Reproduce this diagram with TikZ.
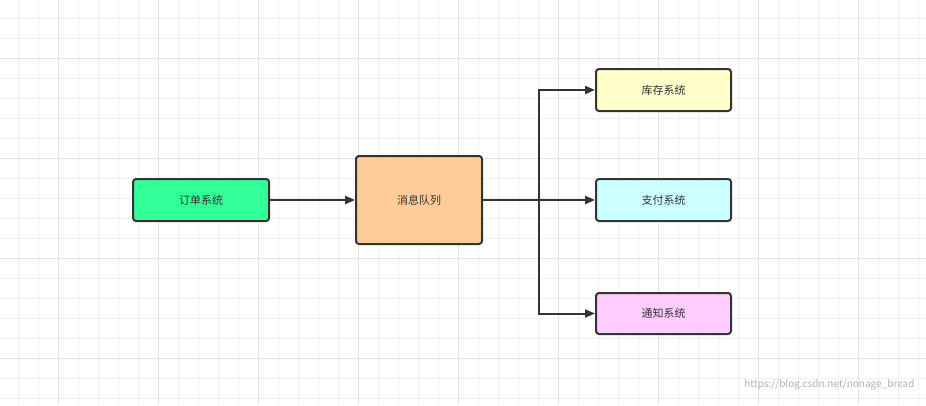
\documentclass[tikz,border=0pt]{standalone}
\usepackage{fontspec}
\setmainfont{Noto Sans CJK SC}
\usetikzlibrary{arrows.meta}
\definecolor{bd}{HTML}{333333}
\tikzset{
 box/.style={draw=bd,line width=2pt,rounded corners=3pt,minimum width=136pt,minimum height=42pt,inner sep=0pt,font=\fontsize{11}{13}\selectfont,text=bd},
 arr/.style={draw=bd,line width=2pt,-{Triangle[length=10pt,width=8pt]}}
}
\begin{document}
\begin{tikzpicture}[x=1pt,y=-1pt]
\useasboundingbox (0,0) rectangle (926,405);
\fill[white] (0,0) rectangle (926,405);
\foreach \x in {-2,18,...,926} \draw[gray!12,line width=0.6pt] (\x,0) -- (\x,405);
\foreach \y in {-2,18,...,405} \draw[gray!12,line width=0.6pt] (0,\y) -- (926,\y);
\foreach \x in {58,158,...,926} \draw[gray!22,line width=1pt] (\x,0) -- (\x,405);
\foreach \y in {58,158,...,405} \draw[gray!22,line width=1pt] (0,\y) -- (926,\y);
\node[box,fill={rgb,255:red,51;green,255;blue,153}] (a) at (201,200) {订单系统};
\node[box,fill={rgb,255:red,255;green,204;blue,153},minimum width=126pt,minimum height=88pt] (q) at (419,200) {消息队列};
\node[box,fill={rgb,255:red,255;green,255;blue,204},minimum width=135pt] (k) at (663.5,90) {库存系统};
\node[box,fill={rgb,255:red,204;green,255;blue,255},minimum width=135pt] (z) at (663.5,200) {支付系统};
\node[box,fill={rgb,255:red,255;green,204;blue,255},minimum width=135pt,minimum height=41pt] (t) at (663.5,313.5) {通知系统};
\coordinate (j) at (539,200);
\draw[arr] (a) -- (q);
\draw[arr] (q) -- (z);
\draw[arr] (q.east) -- (j) |- (k.west);
\draw[arr] (q.east) -- (j) |- (t.west);
\node[anchor=east,text=gray!60,font=\fontsize{10}{12}\selectfont] (w) at (918,385) {https://blog.csdn.net/nonage\_bread};
\end{tikzpicture}
\end{document}
